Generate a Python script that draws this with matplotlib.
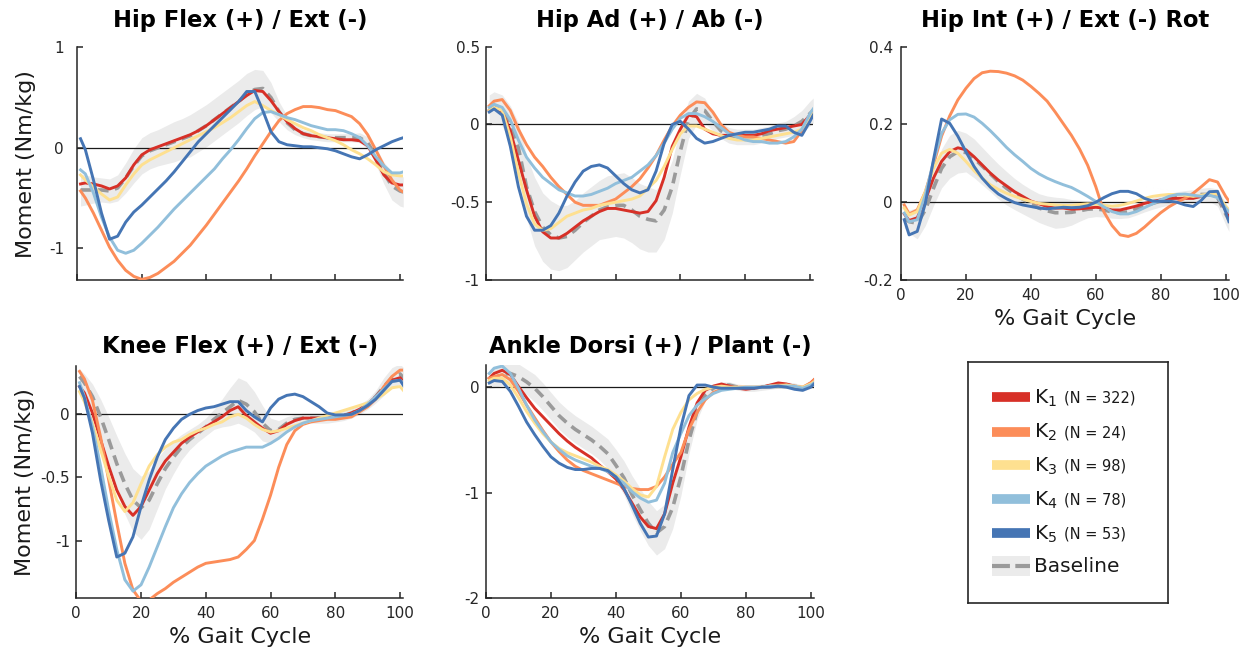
#!/usr/bin/env python3
"""
Joint moment curves over the gait cycle for five clusters (K1..K5)
compared against the baseline mean +/- SD band.
"""

import numpy as np
import matplotlib
matplotlib.use('Agg')
import matplotlib.pyplot as plt

plt.rcParams['font.family'] = ['DejaVu Sans']
plt.rcParams['axes.unicode_minus'] = False

# % gait cycle sample points (shared by every panel)
gait = [1, 2.5, 5, 7.5, 10, 12.5, 15,
        17.5, 20, 22.5, 25, 27.5, 30, 32.5,
        35, 37.5, 40, 42.5, 45, 47.5, 50,
        52.5, 55, 57.5, 60, 62.5, 65, 67.5,
        70, 72.5, 75, 77.5, 80, 82.5, 85,
        87.5, 90, 92.5, 95, 97.5, 100, 101]

cluster_names = ['K$_1$', 'K$_2$', 'K$_3$', 'K$_4$', 'K$_5$']
cluster_n = [322, 24, 98, 78, 53]

# ---- Hip flexion (+) / extension (-)
hipflex_k1 = [-0.36, -0.35, -0.36, -0.38, -0.41, -0.38, -0.30,
              -0.17, -0.07, -0.02, 0.01, 0.04, 0.07, 0.10,
              0.13, 0.17, 0.22, 0.28, 0.34, 0.40, 0.46,
              0.52, 0.57, 0.56, 0.47, 0.36, 0.26, 0.19,
              0.14, 0.12, 0.11, 0.10, 0.09, 0.08, 0.08,
              0.07, 0.02, -0.12, -0.27, -0.35, -0.37, -0.37]
hipflex_k2 = [-0.43, -0.50, -0.65, -0.82, -0.99, -1.12, -1.22,
              -1.28, -1.31, -1.29, -1.25, -1.19, -1.13, -1.05,
              -0.97, -0.87, -0.77, -0.66, -0.55, -0.44, -0.33,
              -0.21, -0.08, 0.04, 0.16, 0.27, 0.34, 0.38,
              0.41, 0.41, 0.40, 0.38, 0.37, 0.34, 0.31,
              0.24, 0.13, -0.02, -0.18, -0.32, -0.42, -0.44]
hipflex_k3 = [-0.27, -0.32, -0.39, -0.46, -0.52, -0.49, -0.37,
              -0.26, -0.17, -0.12, -0.08, -0.04, 0.00, 0.04,
              0.08, 0.12, 0.16, 0.20, 0.25, 0.30, 0.36,
              0.42, 0.46, 0.42, 0.37, 0.33, 0.28, 0.24,
              0.20, 0.17, 0.13, 0.10, 0.07, 0.03, -0.02,
              -0.06, -0.11, -0.17, -0.24, -0.27, -0.28, -0.28]
hipflex_k4 = [-0.22, -0.26, -0.45, -0.69, -0.89, -1.02, -1.05,
              -1.02, -0.95, -0.87, -0.79, -0.70, -0.61, -0.53,
              -0.45, -0.37, -0.29, -0.21, -0.11, -0.02, 0.08,
              0.19, 0.29, 0.35, 0.36, 0.33, 0.30, 0.28,
              0.25, 0.22, 0.20, 0.18, 0.18, 0.17, 0.14,
              0.10, 0.02, -0.09, -0.18, -0.25, -0.25, -0.24]
hipflex_k5 = [0.09, -0.02, -0.32, -0.65, -0.91, -0.88, -0.74,
              -0.64, -0.57, -0.49, -0.41, -0.33, -0.24, -0.14,
              -0.04, 0.06, 0.14, 0.22, 0.30, 0.38, 0.46,
              0.56, 0.56, 0.37, 0.16, 0.06, 0.03, 0.02,
              0.01, 0.01, 0.00, -0.01, -0.03, -0.06, -0.09,
              -0.11, -0.07, -0.02, 0.02, 0.06, 0.09, 0.10]
hipflex_base = [-0.42, -0.42, -0.42, -0.42, -0.43, -0.40, -0.30,
                -0.18, -0.08, -0.03, 0.00, 0.03, 0.06, 0.09,
                0.12, 0.17, 0.22, 0.28, 0.34, 0.40, 0.46,
                0.53, 0.58, 0.59, 0.50, 0.36, 0.25, 0.18,
                0.14, 0.12, 0.11, 0.10, 0.10, 0.10, 0.10,
                0.10, 0.05, -0.08, -0.25, -0.38, -0.43, -0.44]
hipflex_sd = [0.16, 0.15, 0.13, 0.12, 0.12, 0.13, 0.15,
              0.17, 0.18, 0.18, 0.18, 0.19, 0.20, 0.20,
              0.21, 0.21, 0.21, 0.21, 0.21, 0.21, 0.21,
              0.21, 0.20, 0.18, 0.15, 0.10, 0.07, 0.05,
              0.04, 0.04, 0.04, 0.04, 0.04, 0.04, 0.04,
              0.05, 0.06, 0.08, 0.11, 0.14, 0.15, 0.15]

# ---- Hip adduction (+) / abduction (-)
hipad_k1 = [0.09, 0.11, 0.08, -0.04, -0.23, -0.42, -0.59,
            -0.69, -0.73, -0.73, -0.70, -0.66, -0.62, -0.59,
            -0.56, -0.54, -0.54, -0.55, -0.56, -0.57, -0.56,
            -0.49, -0.34, -0.14, -0.03, 0.06, 0.05, -0.03,
            -0.06, -0.07, -0.07, -0.07, -0.07, -0.07, -0.06,
            -0.04, -0.03, -0.02, -0.01, 0.00, 0.06, 0.08]
hipad_k2 = [0.12, 0.15, 0.16, 0.09, -0.03, -0.13, -0.21,
            -0.27, -0.34, -0.40, -0.45, -0.50, -0.52, -0.52,
            -0.52, -0.50, -0.48, -0.44, -0.40, -0.35, -0.28,
            -0.20, -0.10, -0.01, 0.06, 0.11, 0.145, 0.14,
            0.08, 0.00, -0.05, -0.07, -0.08, -0.08, -0.09,
            -0.10, -0.11, -0.12, -0.11, -0.04, 0.06, 0.08]
hipad_k3 = [0.09, 0.11, 0.09, -0.08, -0.31, -0.51, -0.64,
            -0.68, -0.67, -0.63, -0.59, -0.57, -0.55, -0.54,
            -0.52, -0.51, -0.50, -0.49, -0.48, -0.46, -0.41,
            -0.36, -0.27, -0.16, -0.06, -0.01, -0.01, -0.03,
            -0.05, -0.07, -0.09, -0.10, -0.10, -0.10, -0.09,
            -0.08, -0.07, -0.06, -0.05, -0.03, 0.05, 0.07]
hipad_k4 = [0.11, 0.13, 0.11, 0.03, -0.10, -0.21, -0.28,
            -0.34, -0.38, -0.42, -0.44, -0.46, -0.46, -0.45,
            -0.43, -0.41, -0.38, -0.36, -0.34, -0.30, -0.26,
            -0.20, -0.12, -0.03, 0.04, 0.07, 0.07, 0.05,
            0.02, -0.02, -0.06, -0.08, -0.10, -0.11, -0.11,
            -0.12, -0.12, -0.11, -0.08, -0.03, 0.07, 0.10]
hipad_k5 = [0.08, 0.10, 0.06, -0.14, -0.40, -0.59, -0.68,
            -0.68, -0.65, -0.57, -0.46, -0.37, -0.30, -0.27,
            -0.26, -0.28, -0.33, -0.38, -0.42, -0.44, -0.42,
            -0.30, -0.12, 0.00, 0.02, -0.03, -0.09, -0.12,
            -0.11, -0.09, -0.07, -0.06, -0.05, -0.05, -0.04,
            -0.03, -0.01, -0.01, -0.05, -0.07, 0.02, 0.06]
hipad_base = [0.09, 0.11, 0.09, 0.00, -0.15, -0.40, -0.56,
              -0.66, -0.71, -0.73, -0.72, -0.68, -0.63, -0.59,
              -0.55, -0.53, -0.52, -0.52, -0.55, -0.59, -0.61,
              -0.62, -0.55, -0.40, -0.17, 0.03, 0.10, 0.09,
              0.02, -0.04, -0.07, -0.08, -0.08, -0.08, -0.07,
              -0.06, -0.04, -0.03, -0.01, 0.02, 0.07, 0.09]
hipad_sd = [0.10, 0.10, 0.10, 0.12, 0.16, 0.20, 0.22,
            0.22, 0.22, 0.21, 0.20, 0.19, 0.19, 0.19,
            0.19, 0.20, 0.20, 0.21, 0.21, 0.21, 0.21,
            0.20, 0.19, 0.17, 0.15, 0.12, 0.10, 0.08,
            0.06, 0.05, 0.05, 0.05, 0.05, 0.05, 0.05,
            0.05, 0.05, 0.05, 0.06, 0.07, 0.08, 0.08]

# ---- Hip internal (+) / external (-) rotation
hiprot_k1 = [-0.030, -0.047, -0.040, 0.006, 0.062, 0.105, 0.130,
             0.140, 0.135, 0.117, 0.096, 0.075, 0.057, 0.042,
             0.027, 0.015, 0.003, -0.004, -0.011, -0.015, -0.015,
             -0.018, -0.017, -0.015, -0.013, -0.015, -0.020, -0.020,
             -0.015, -0.010, -0.003, 0.002, 0.006, 0.010, 0.010,
             0.010, 0.010, 0.015, 0.019, 0.015, -0.020, -0.037]
hiprot_k2 = [-0.007, -0.030, -0.020, 0.027, 0.096, 0.170, 0.222,
             0.263, 0.293, 0.318, 0.333, 0.337, 0.336, 0.332,
             0.325, 0.314, 0.298, 0.280, 0.260, 0.232, 0.202,
             0.172, 0.137, 0.095, 0.040, -0.025, -0.060, -0.084,
             -0.088, -0.080, -0.064, -0.045, -0.027, -0.012, 0.000,
             0.010, 0.023, 0.040, 0.058, 0.052, 0.015, 0.003]
hiprot_k3 = [-0.015, -0.033, -0.024, 0.027, 0.087, 0.126, 0.136,
             0.126, 0.105, 0.081, 0.062, 0.045, 0.033, 0.023,
             0.015, 0.008, 0.002, -0.003, -0.005, -0.007, -0.008,
             -0.008, -0.006, -0.004, -0.005, -0.008, -0.010, -0.008,
             -0.003, 0.003, 0.010, 0.015, 0.018, 0.020, 0.020,
             0.018, 0.015, 0.018, 0.022, 0.020, -0.010, -0.020]
hiprot_k4 = [-0.028, -0.050, -0.045, 0.019, 0.105, 0.177, 0.212,
             0.226, 0.227, 0.219, 0.203, 0.184, 0.163, 0.141,
             0.122, 0.105, 0.087, 0.073, 0.062, 0.053, 0.045,
             0.038, 0.027, 0.015, 0.002, -0.012, -0.024, -0.030,
             -0.030, -0.024, -0.014, -0.004, 0.006, 0.015, 0.020,
             0.021, 0.018, 0.015, 0.018, 0.012, -0.015, -0.025]
hiprot_k5 = [-0.045, -0.084, -0.075, -0.003, 0.109, 0.214, 0.203,
             0.170, 0.130, 0.092, 0.062, 0.039, 0.021, 0.009,
             -0.001, -0.007, -0.011, -0.015, -0.017, -0.015, -0.013,
             -0.014, -0.013, -0.009, 0.000, 0.012, 0.022, 0.028,
             0.028, 0.022, 0.010, 0.003, 0.002, 0.003, 0.000,
             -0.007, -0.011, 0.005, 0.027, 0.028, -0.025, -0.050]
hiprot_base = [-0.041, -0.050, -0.054, -0.020, 0.036, 0.087, 0.117,
               0.130, 0.128, 0.113, 0.093, 0.073, 0.053, 0.036,
               0.021, 0.008, -0.004, -0.015, -0.022, -0.027, -0.027,
               -0.026, -0.022, -0.018, -0.017, -0.020, -0.025, -0.027,
               -0.025, -0.018, -0.010, -0.003, 0.003, 0.008, 0.012,
               0.015, 0.017, 0.020, 0.020, 0.012, -0.030, -0.045]
hiprot_sd = [0.025, 0.030, 0.040, 0.040, 0.045, 0.050, 0.055,
             0.055, 0.050, 0.050, 0.048, 0.046, 0.045, 0.043,
             0.040, 0.038, 0.037, 0.037, 0.038, 0.040, 0.038,
             0.033, 0.027, 0.022, 0.020, 0.018, 0.016, 0.015,
             0.015, 0.015, 0.015, 0.015, 0.015, 0.015, 0.015,
             0.015, 0.015, 0.016, 0.018, 0.022, 0.028, 0.030]

# ---- Knee flexion (+) / extension (-)
knee_k1 = [0.22, 0.17, 0.01, -0.20, -0.41, -0.60, -0.73,
           -0.80, -0.73, -0.60, -0.47, -0.37, -0.30, -0.23,
           -0.18, -0.14, -0.10, -0.06, -0.02, 0.03, 0.06,
           -0.01, -0.06, -0.11, -0.15, -0.13, -0.08, -0.05,
           -0.03, -0.03, -0.03, -0.03, -0.02, -0.01, 0.01,
           0.04, 0.08, 0.14, 0.21, 0.27, 0.29, 0.26]
knee_k2 = [0.34, 0.28, 0.11, -0.18, -0.52, -0.86, -1.18,
           -1.39, -1.48, -1.47, -1.42, -1.38, -1.33, -1.29,
           -1.25, -1.21, -1.18, -1.17, -1.16, -1.15, -1.13,
           -1.07, -1.00, -0.83, -0.64, -0.42, -0.24, -0.13,
           -0.08, -0.06, -0.05, -0.04, -0.04, -0.03, -0.02,
           0.02, 0.06, 0.12, 0.22, 0.30, 0.35, 0.35]
knee_k3 = [0.18, 0.10, -0.07, -0.28, -0.49, -0.68, -0.77,
           -0.70, -0.55, -0.41, -0.32, -0.26, -0.22, -0.20,
           -0.16, -0.13, -0.11, -0.08, -0.06, -0.02, 0.00,
           -0.03, -0.08, -0.12, -0.14, -0.13, -0.11, -0.09,
           -0.07, -0.05, -0.03, -0.01, 0.01, 0.03, 0.05,
           0.07, 0.09, 0.12, 0.16, 0.21, 0.22, 0.19]
knee_k4 = [0.25, 0.14, -0.10, -0.41, -0.76, -1.07, -1.31,
           -1.40, -1.35, -1.21, -1.05, -0.89, -0.74, -0.63,
           -0.54, -0.47, -0.41, -0.37, -0.33, -0.30, -0.28,
           -0.26, -0.26, -0.26, -0.23, -0.19, -0.14, -0.10,
           -0.07, -0.05, -0.04, -0.03, -0.02, -0.01, 0.00,
           0.03, 0.08, 0.14, 0.20, 0.26, 0.27, 0.25]
knee_k5 = [0.22, 0.13, -0.15, -0.52, -0.84, -1.13, -1.10,
           -0.97, -0.73, -0.52, -0.34, -0.20, -0.11, -0.04,
           0.00, 0.03, 0.05, 0.06, 0.08, 0.10, 0.10,
           0.03, -0.02, -0.06, 0.05, 0.12, 0.15, 0.16,
           0.14, 0.10, 0.06, 0.01, -0.005, -0.005, 0.00,
           0.03, 0.07, 0.12, 0.19, 0.26, 0.27, 0.23]
knee_base = [0.30, 0.25, 0.14, -0.02, -0.20, -0.39, -0.55,
             -0.68, -0.74, -0.68, -0.55, -0.43, -0.34, -0.26,
             -0.20, -0.15, -0.10, -0.04, 0.01, 0.06, 0.11,
             0.08, 0.02, -0.07, -0.13, -0.12, -0.07, -0.04,
             -0.03, -0.03, -0.03, -0.03, -0.02, -0.01, 0.01,
             0.04, 0.08, 0.14, 0.22, 0.29, 0.32, 0.29]
knee_sd = [0.06, 0.07, 0.10, 0.14, 0.18, 0.22, 0.24,
           0.25, 0.25, 0.23, 0.20, 0.16, 0.13, 0.10,
           0.08, 0.07, 0.07, 0.08, 0.11, 0.15, 0.18,
           0.18, 0.16, 0.14, 0.10, 0.07, 0.05, 0.04,
           0.04, 0.04, 0.04, 0.04, 0.04, 0.04, 0.04,
           0.04, 0.04, 0.05, 0.07, 0.08, 0.08, 0.08]

# ---- Ankle dorsiflexion (+) / plantarflexion (-)
ankle_k1 = [0.085, 0.13, 0.16, 0.12, 0.006, -0.10, -0.20,
            -0.28, -0.36, -0.44, -0.51, -0.57, -0.62, -0.67,
            -0.74, -0.80, -0.87, -0.97, -1.10, -1.23, -1.32,
            -1.34, -1.20, -0.91, -0.66, -0.38, -0.15, -0.03,
            0.01, 0.03, 0.01, -0.01, -0.02, -0.01, 0.00,
            0.02, 0.04, 0.03, 0.01, -0.01, 0.04, 0.07]
ankle_k2 = [0.085, 0.10, 0.12, 0.07, -0.04, -0.17, -0.29,
            -0.41, -0.52, -0.61, -0.69, -0.75, -0.79, -0.82,
            -0.85, -0.88, -0.91, -0.94, -0.96, -0.97, -0.97,
            -0.94, -0.85, -0.73, -0.62, -0.40, -0.24, -0.12,
            -0.05, -0.02, -0.01, 0.00, 0.00, 0.00, 0.00,
            0.01, 0.02, 0.02, 0.01, 0.00, 0.04, 0.07]
ankle_k3 = [0.063, 0.085, 0.085, 0.02, -0.10, -0.23, -0.34,
            -0.44, -0.52, -0.58, -0.62, -0.65, -0.68, -0.71,
            -0.75, -0.78, -0.83, -0.89, -0.96, -1.02, -1.04,
            -0.94, -0.66, -0.40, -0.24, -0.12, -0.06, -0.02,
            0.00, 0.01, 0.00, 0.00, 0.00, 0.00, 0.00,
            0.01, 0.01, 0.02, 0.01, 0.00, 0.03, 0.05]
ankle_k4 = [0.13, 0.18, 0.20, 0.13, -0.01, -0.17, -0.31,
            -0.42, -0.52, -0.59, -0.65, -0.69, -0.72, -0.75,
            -0.77, -0.80, -0.85, -0.91, -0.99, -1.05, -1.09,
            -1.07, -0.91, -0.62, -0.44, -0.27, -0.17, -0.11,
            -0.06, -0.03, -0.02, -0.01, 0.00, 0.00, 0.00,
            0.01, 0.01, 0.01, 0.01, -0.01, 0.02, 0.04]
ankle_k5 = [0.04, 0.063, 0.054, -0.04, -0.18, -0.33, -0.45,
            -0.56, -0.66, -0.72, -0.76, -0.78, -0.78, -0.77,
            -0.77, -0.79, -0.85, -0.96, -1.12, -1.29, -1.42,
            -1.41, -1.20, -0.78, -0.38, -0.08, 0.02, 0.02,
            0.00, -0.01, -0.01, -0.01, -0.01, -0.01, 0.00,
            0.00, 0.01, 0.00, -0.02, -0.03, 0.00, 0.03]
ankle_base = [0.07, 0.085, 0.12, 0.13, 0.10, 0.05, -0.01,
              -0.09, -0.18, -0.27, -0.34, -0.40, -0.45, -0.50,
              -0.56, -0.63, -0.74, -0.86, -1.02, -1.16, -1.29,
              -1.38, -1.32, -1.14, -0.85, -0.50, -0.23, -0.08,
              -0.01, 0.02, 0.02, 0.00, -0.01, -0.01, 0.00,
              0.01, 0.02, 0.02, 0.01, -0.01, 0.03, 0.05]
ankle_sd = [0.08, 0.09, 0.10, 0.11, 0.12, 0.12, 0.13,
            0.13, 0.13, 0.13, 0.13, 0.13, 0.13, 0.13,
            0.13, 0.14, 0.15, 0.16, 0.18, 0.20, 0.21,
            0.21, 0.21, 0.20, 0.18, 0.13, 0.08, 0.05,
            0.04, 0.03, 0.03, 0.03, 0.03, 0.03, 0.03,
            0.03, 0.03, 0.03, 0.03, 0.03, 0.04, 0.04]

# Colour scheme (RdYlBu)
COLORS = {
    'k1': '#d73027',
    'k2': '#fc8d59',
    'k3': '#fee090',
    'k4': '#91bfdb',
    'k5': '#4575b4',
    'baseline': '#9a9a9a',
    'band': '#ebebeb',
    'axis': '#262626',
}
CLUSTER_COLORS = [COLORS['k1'], COLORS['k2'], COLORS['k3'], COLORS['k4'], COLORS['k5']]

FIG_W, FIG_H = 1250, 652


def px_rect(left, top, right, bottom):
    """Pixel box -> figure-fraction rect."""
    return [left / FIG_W, 1 - bottom / FIG_H, (right - left) / FIG_W, (bottom - top) / FIG_H]


def plot_panel(ax, clusters, base, sd, title, ylim, yticks, ypad, title_pad,
               xlabels=False, ylabel=False):
    x = np.array(gait)
    base = np.array(base)
    sd = np.array(sd)

    ax.fill_between(x, base - sd, base + sd, color=COLORS['band'], lw=0, zorder=1)
    ax.axhline(0, color='#1a1a1a', lw=0.9, zorder=1.5)
    ax.plot(x, base, color=COLORS['baseline'], lw=2.6, dashes=(3, 1.8), zorder=2)
    for vals, c in zip(clusters, CLUSTER_COLORS):
        ax.plot(x, vals, color=c, lw=2.1, zorder=3, solid_joinstyle='round')

    ax.set_xlim(0, 101)
    ax.set_ylim(*ylim)
    ax.set_xticks([0, 20, 40, 60, 80, 100])
    ax.set_yticks(yticks)
    ax.set_yticklabels([f'{t:g}' for t in yticks])

    for side in ['top', 'right']:
        ax.spines[side].set_visible(False)
    for side in ['left', 'bottom']:
        ax.spines[side].set_color(COLORS['axis'])
        ax.spines[side].set_linewidth(1.1)

    ax.tick_params(direction='in', length=4.5, width=1.1, colors=COLORS['axis'],
                   labelsize=11)
    ax.tick_params(axis='y', pad=ypad)
    ax.tick_params(axis='x', pad=5.5, labelbottom=xlabels)

    ax.set_title(title, fontsize=16.3, fontweight='bold', pad=title_pad)
    if xlabels:
        ax.set_xlabel('% Gait Cycle', fontsize=16, color='#1a1a1a')
        ax.xaxis.set_label_coords(0.5, -0.125)
    if ylabel:
        ax.set_ylabel('Moment (Nm/kg)', fontsize=16, color='#1a1a1a')
        ax.yaxis.set_label_coords(-0.127, 0.5)


def draw_legend(fig):
    """Boxed legend drawn in its own pixel-space axes."""
    lax = fig.add_axes(px_rect(968, 362, 1168, 603))
    lax.set_xlim(968, 1168)
    lax.set_ylim(603, 362)
    lax.set_xticks([])
    lax.set_yticks([])
    for s in lax.spines.values():
        s.set_color(COLORS['axis'])
        s.set_linewidth(1.2)

    row_y = [397, 431.5, 465, 499, 533, 566]
    for i, (name, n, c) in enumerate(zip(cluster_names, cluster_n, CLUSTER_COLORS)):
        y = row_y[i]
        lax.plot([991.5, 1030], [y, y], color=c, lw=7, solid_capstyle='butt')
        lax.text(1034, y + 1, name, fontsize=14.5, va='center', ha='left', color='#1a1a1a')
        lax.text(1064, y + 1, f'(N = {n})', fontsize=10.5, va='center', ha='left',
                 color='#1a1a1a')

    y = row_y[-1]
    lax.fill_between([991.5, 1030], y - 10, y + 10, color=COLORS['band'], lw=0)
    lax.plot([991.5, 1030], [y, y], color=COLORS['baseline'], lw=3, dashes=(4.3, 1.3))
    lax.text(1034, y, 'Baseline', fontsize=14.5, va='center', ha='left', color='#1a1a1a')


def main():
    fig = plt.figure(figsize=(FIG_W / 100, FIG_H / 100), dpi=100)

    ax1 = fig.add_axes(px_rect(77.3, 47.3, 403.2, 280))
    plot_panel(ax1, [hipflex_k1, hipflex_k2, hipflex_k3, hipflex_k4, hipflex_k5],
               hipflex_base, hipflex_sd, 'Hip Flex (+) / Ext (-)',
               (-1.316, 1), [-1, 0, 1], 9.5, 14.4, ylabel=True)

    ax2 = fig.add_axes(px_rect(486, 46.7, 813.2, 280))
    plot_panel(ax2, [hipad_k1, hipad_k2, hipad_k3, hipad_k4, hipad_k5],
               hipad_base, hipad_sd, 'Hip Ad (+) / Ab (-)',
               (-1, 0.5), [-1, -0.5, 0, 0.5], 4.5, 14.4)

    ax3 = fig.add_axes(px_rect(901, 46.7, 1228.9, 280))
    plot_panel(ax3, [hiprot_k1, hiprot_k2, hiprot_k3, hiprot_k4, hiprot_k5],
               hiprot_base, hiprot_sd, 'Hip Int (+) / Ext (-) Rot',
               (-0.2, 0.4), [-0.2, 0, 0.2, 0.4], 6, 14.4, xlabels=True)

    ax4 = fig.add_axes(px_rect(76.3, 365.7, 403.3, 598.3))
    plot_panel(ax4, [knee_k1, knee_k2, knee_k3, knee_k4, knee_k5],
               knee_base, knee_sd, 'Knee Flex (+) / Ext (-)',
               (-1.457, 0.385), [-1, -0.5, 0], 4.5, 9, xlabels=True, ylabel=True)

    ax5 = fig.add_axes(px_rect(486, 365, 814, 598.3))
    plot_panel(ax5, [ankle_k1, ankle_k2, ankle_k3, ankle_k4, ankle_k5],
               ankle_base, ankle_sd, 'Ankle Dorsi (+) / Plant (-)',
               (-2, 0.21), [-2, -1, 0], 4.5, 9, xlabels=True)

    draw_legend(fig)

    fig.savefig('out.png', dpi=100)


if __name__ == '__main__':
    main()
